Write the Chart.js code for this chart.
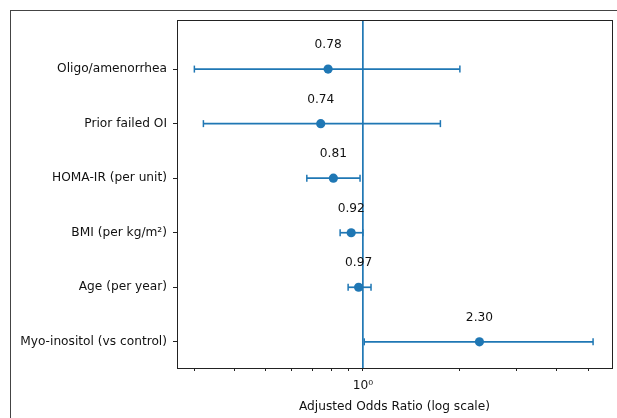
<!DOCTYPE html>
<html lang="en">
<head>
    <meta charset="UTF-8">
    <title>Adjusted Odds Ratios</title>
    <style>
        body {
            margin: 0;
            background: #fff;
            font-family: "DejaVu Sans", sans-serif;
        }
        .frame {
            position: absolute;
            left: 10px;
            top: 10px;
            width: 700px;
            height: 500px;
            border: 1px solid #444;
        }
        .wrap {
            position: absolute;
            left: 0;
            top: 0;
            width: 617px;
            height: 418px;
        }
    </style>
</head>
<body>
<div class="frame"></div>
<div class="wrap"><canvas id="orChart" width="617" height="418"></canvas></div>

<script src="https://cdn.jsdelivr.net/npm/chart.js"></script>
<script>
    // rows listed from bottom to top
    const labels = ['Myo-inositol (vs control)', 'Age (per year)', 'BMI (per kg/m²)', 'HOMA-IR (per unit)', 'Prior failed OI', 'Oligo/amenorrhea'];
    const oddsRatio = [2.30, 0.97, 0.92, 0.81, 0.74, 0.78];
    const ciLow = [1.01, 0.90, 0.85, 0.67, 0.32, 0.30];
    const ciHigh = [5.18, 1.06, 1.00, 0.98, 1.74, 2.00];
    const xTicks = [0.3, 0.4, 0.5, 0.6, 0.7, 0.8, 0.9, 1, 2, 3, 4, 5];
    const refLine = 1;

    const blue = '#1f77b4';
    const font = { family: 'DejaVu Sans', size: 12.2 };

    const datasets = [];
    // error bars, one small line per row with caps
    labels.forEach((name, i) => {
        datasets.push({
            type: 'scatter',
            showLine: true,
            data: [{ x: ciLow[i], y: i }, { x: ciHigh[i], y: i }],
            borderColor: blue,
            borderWidth: 1.7,
            pointStyle: 'line',
            rotation: 90,
            pointRadius: 3.5,
            pointBorderColor: blue,
            pointBorderWidth: 1.5,
            pointHoverRadius: 3.5
        });
    });
    datasets.push({
        type: 'scatter',
        data: oddsRatio.map((v, i) => ({ x: v, y: i })),
        backgroundColor: blue,
        borderColor: blue,
        pointRadius: 4.6,
        pointHoverRadius: 4.6,
        borderWidth: 0
    });

    const extras = {
        id: 'extras',
        afterDatasetsDraw(chart) {
            const { ctx, chartArea, scales } = chart;
            // reference line at OR = 1
            const xr = scales.x.getPixelForValue(refLine);
            ctx.save();
            ctx.strokeStyle = blue;
            ctx.lineWidth = 1.7;
            ctx.beginPath();
            ctx.moveTo(xr, chartArea.top);
            ctx.lineTo(xr, chartArea.bottom);
            ctx.stroke();

            // value labels above the points
            ctx.fillStyle = '#111';
            ctx.font = '12.2px "DejaVu Sans"';
            ctx.textAlign = 'center';
            ctx.textBaseline = 'middle';
            oddsRatio.forEach((v, i) => {
                const px = scales.x.getPixelForValue(v);
                const py = scales.y.getPixelForValue(i);
                ctx.fillText(v.toFixed(2), px, py - 24);
            });

            // box around plot area
            ctx.strokeStyle = '#222';
            ctx.lineWidth = 1;
            ctx.strokeRect(Math.round(chartArea.left) + 0.5, Math.round(chartArea.top) + 0.5,
                Math.round(chartArea.right - chartArea.left), Math.round(chartArea.bottom - chartArea.top));
            ctx.restore();
        }
    };

    new Chart(document.getElementById('orChart'), {
        type: 'scatter',
        data: { datasets: datasets },
        options: {
            responsive: false,
            animation: false,
            layout: { padding: { left: 0, top: 20, right: 5, bottom: 0 } },
            plugins: {
                legend: { display: false },
                tooltip: { enabled: false }
            },
            scales: {
                x: {
                    type: 'logarithmic',
                    min: 0.265,
                    max: 5.93,
                    afterBuildTicks: (scale) => {
                        scale.ticks = xTicks.map(v => ({ value: v }));
                    },
                    afterFit: (scale) => { scale.height = 50; },
                    ticks: {
                        color: '#111',
                        font: font,
                        padding: 8,
                        autoSkip: false,
                        maxRotation: 0,
                        callback: (v) => v === 1 ? '10⁰' : ''
                    },
                    grid: {
                        drawOnChartArea: false,
                        drawTicks: true,
                        tickLength: 3,
                        tickColor: '#222',
                        tickWidth: 1
                    },
                    border: { display: false },
                    title: {
                        display: true,
                        text: 'Adjusted Odds Ratio (log scale)',
                        color: '#111',
                        font: font,
                        padding: { top: 2, bottom: 4 }
                    }
                },
                y: {
                    type: 'linear',
                    min: -0.48,
                    max: 5.9,
                    afterBuildTicks: (scale) => {
                        scale.ticks = labels.map((_, i) => ({ value: i }));
                    },
                    afterFit: (scale) => { scale.width = 177; },
                    ticks: {
                        color: '#111',
                        font: font,
                        padding: 6,
                        autoSkip: false,
                        callback: (v) => labels[v]
                    },
                    grid: {
                        drawOnChartArea: false,
                        drawTicks: true,
                        tickLength: 4,
                        tickColor: '#222',
                        tickWidth: 1
                    },
                    border: { display: false }
                }
            }
        },
        plugins: [extras]
    });
</script>
</body>
</html>
